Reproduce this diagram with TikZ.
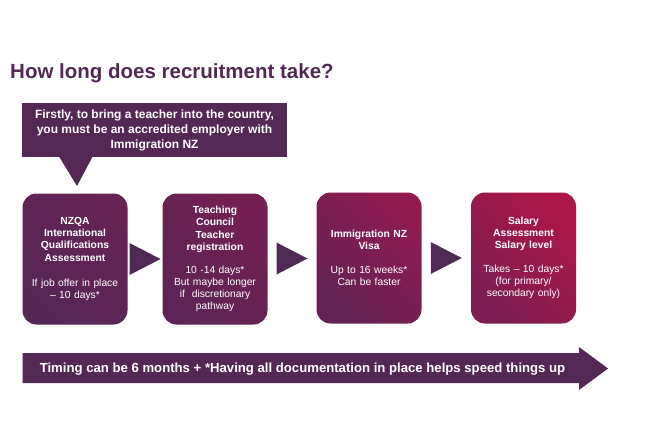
\documentclass[tikz,border=0pt]{standalone}
\usepackage{fontspec}
\setmainfont{Liberation Sans}
\usetikzlibrary{calc}
\definecolor{nzpurple}{RGB}{84,40,84}
\definecolor{nzchevron}{RGB}{78,42,84}
\definecolor{nzqaA}{RGB}{84,38,86}
\definecolor{nzqaB}{RGB}{102,35,84}
\definecolor{tcA}{RGB}{92,36,85}
\definecolor{tcB}{RGB}{116,32,82}
\definecolor{visaA}{RGB}{98,35,84}
\definecolor{visaB}{RGB}{145,27,78}
\definecolor{salaryA}{RGB}{125,30,80}
\definecolor{salaryB}{RGB}{172,22,72}
\tikzset{
  stage/.style={rounded corners=14pt, minimum width=105pt, minimum height=131pt,
    text width=100pt, align=center, text=white, inner sep=0pt,
    font=\fontsize{10.3}{12.1}\selectfont},
  chevron/.style={fill=nzchevron},
}
\begin{document}
\begin{tikzpicture}[x=1pt,y=-1pt]
  \fill[white] (0,0) rectangle (660,440);
  \node[anchor=base west, inner sep=0pt, text=nzpurple,
    font=\fontsize{20.5}{24}\selectfont\bfseries] (title) at (10,78) {How long does recruitment take?};
  \node[fill=nzpurple, minimum width=265pt, minimum height=54pt, inner sep=0pt,
    text=white, align=center, font=\fontsize{12}{15}\selectfont\bfseries] (intro) at (154.5,130)
    {Firstly, to bring a teacher into the country,\\you must be an accredited employer with\\Immigration NZ};
  \coordinate (tip) at (77,186);
  \fill[nzpurple] ($(intro.south west)+(37,-1)$) -- (tip) -- ($(intro.south west)+(71,-1)$) -- cycle;
  \node[stage, left color=nzqaA, right color=nzqaB, shading angle=135] (nzqa) at (75,259)
    {{\bfseries NZQA\\International\\Qualifications\\Assessment}\\[13pt]If job offer in place\\– 10 days*};
  \node[stage, left color=tcA, right color=tcB, shading angle=135] (tc) at (215,259)
    {{\bfseries Teaching\\Council\\Teacher\\registration}\\[11pt]10 -14 days*\\But maybe longer\\if~ discretionary\\pathway};
  \node[stage, left color=visaA, right color=visaB, shading angle=135] (visa) at (369,258)
    {{\bfseries Immigration NZ\\Visa}\\[12pt]Up to 16 weeks*\\Can be faster};
  \node[stage, left color=salaryA, right color=salaryB, shading angle=135] (salary) at (523.5,258)
    {{\bfseries Salary\\Assessment\\Salary level}\\[12pt]Takes – 10 days*\\(for primary/\\secondary only)};
  \foreach \a/\b in {nzqa/tc, tc/visa, visa/salary}
    \fill[chevron] ($(\a.east)!0.5!(\b.west)+(-15.5,-16)$) -- ($(\a.east)!0.5!(\b.west)+(15.5,0)$)
      -- ($(\a.east)!0.5!(\b.west)+(-15.5,16)$) -- cycle;
  \fill[nzpurple] (22.7,353) -- (579,353) -- (579,347) -- (608,368.5) -- (579,390) -- (579,383) -- (22.7,383) -- cycle;
  \node[text=white, inner sep=0pt, font=\fontsize{13.15}{15}\selectfont\bfseries] (timing) at (302.5,369)
    {Timing can be 6 months + *Having all documentation in place helps speed things up};
\end{tikzpicture}
\end{document}
